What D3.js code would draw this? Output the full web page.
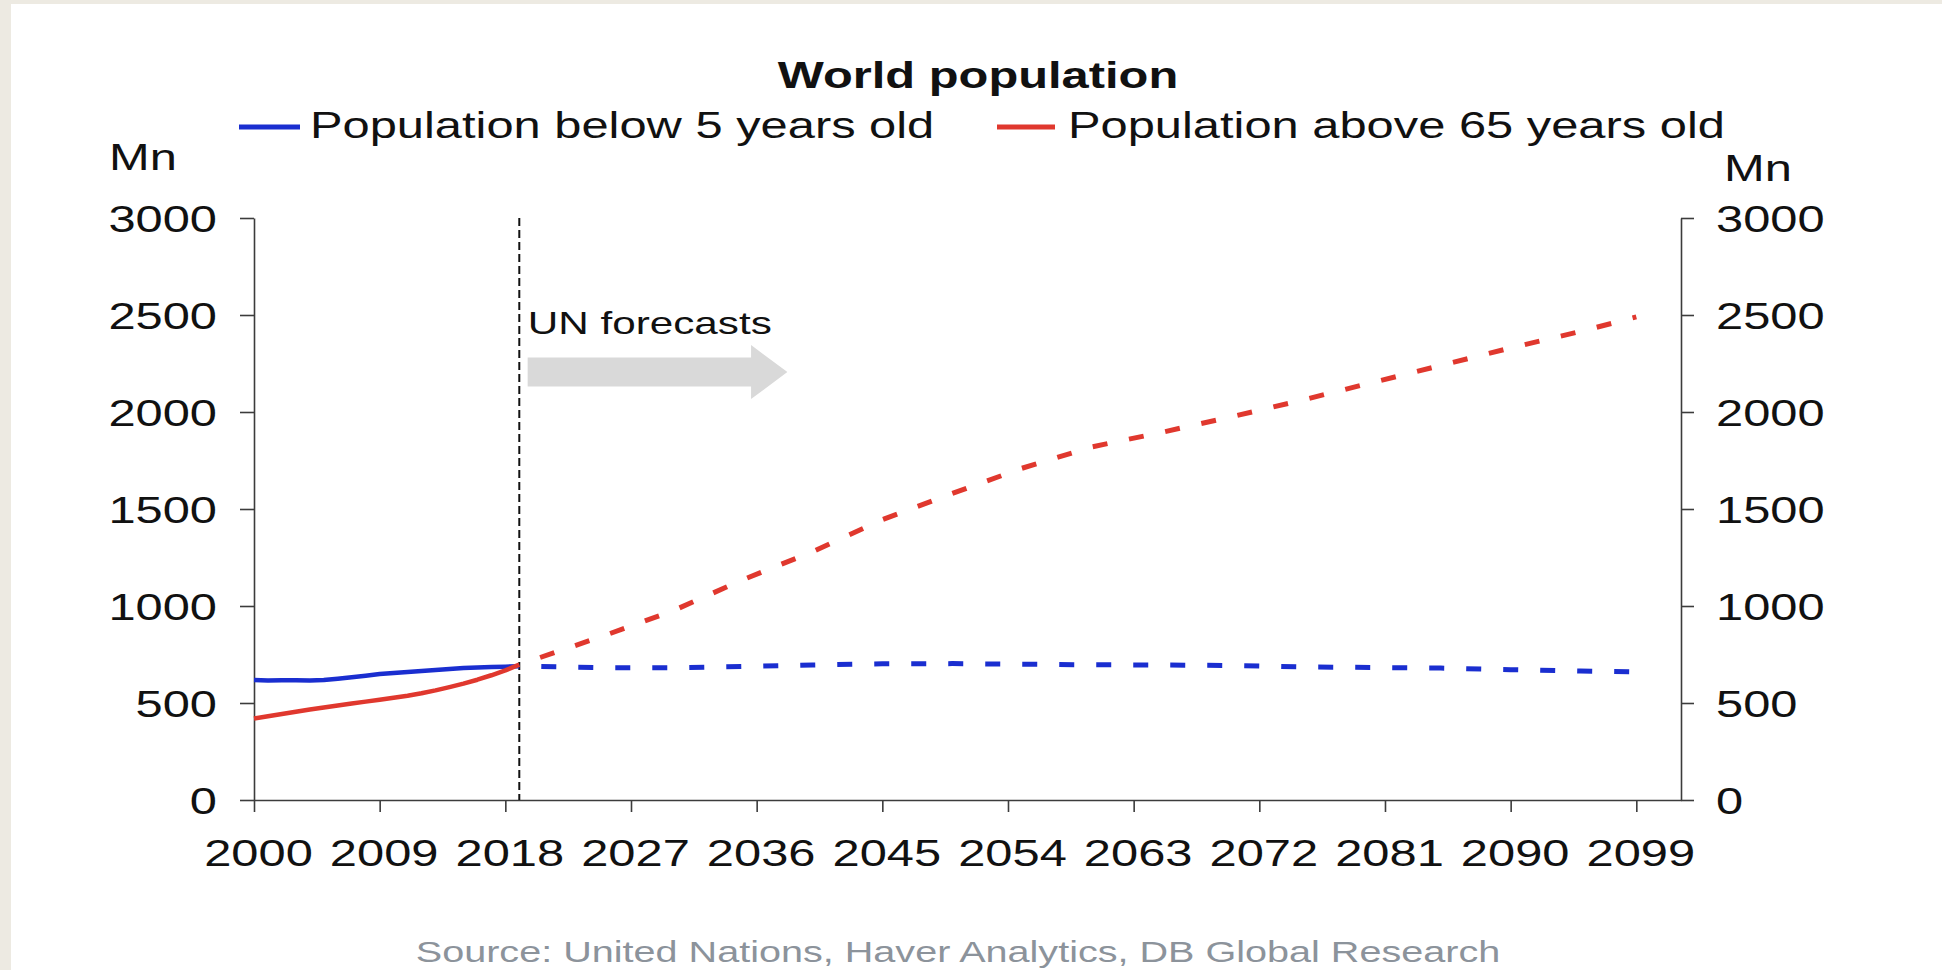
<!DOCTYPE html>
<html>
<head>
<meta charset="utf-8">
<script src="https://cdn.jsdelivr.net/npm/d3@7"></script>
<style>
  html, body { margin: 0; padding: 0; background: #edeae2; }
  svg { display: block; }
  text { font-family: "Liberation Sans", Arial, Helvetica, sans-serif; }
</style>
</head>
<body>
<svg id="chart" width="1942" height="970"></svg>
<script>
// ---- Data (millions of people) ----
// Estimates, 2000-2019
const histYears = d3.range(2000, 2020);
const under5Hist = [618, 616, 617, 617, 616, 618, 625, 633, 641, 649,
                    655, 660, 665, 670, 675, 680, 683, 685, 687, 690];
const over65Hist = [420, 432, 443, 455, 466, 477, 487, 497, 507, 517,
                    527, 537, 550, 565, 582, 600, 620, 643, 668, 698];

// UN projections, 2019-2099
const projYears  = [2019, 2025, 2030, 2035, 2040, 2045, 2050, 2055, 2060,
                    2065, 2070, 2075, 2080, 2085, 2090, 2095, 2099];
const under5Proj = [690, 682, 682, 688, 696, 702, 703, 700, 697,
                    696, 693, 686, 683, 680, 672, 665, 660];
const over65Proj = [698, 845, 975, 1135, 1280, 1445, 1580, 1710, 1820,
                    1895, 1975, 2060, 2150, 2240, 2330, 2415, 2490];

const seriesNames  = ["Population below 5 years old", "Population above 65 years old"];
const seriesColors = ["#1a2ed0", "#e0382e"];

const xTickYears = d3.range(2000, 2100, 9);   // 2000, 2009, ... 2099
const yTicks     = [0, 500, 1000, 1500, 2000, 2500, 3000];
const forecastStart = 2019;

// Forecast arrow annotation, in data units
const arrowX = [2019.6, 2035.6, 2038.2];      // tail, head base, tip
const arrowY = 2206, arrowHalf = 75, arrowHeadHalf = 139;

// ---- Layout ----
const W = 1942, H = 970;
const S = 1.32;                     // horizontal text stretch
const FONT = 37;

const svg = d3.select("#chart");

svg.append("rect").attr("width", W).attr("height", H).attr("fill", "#edeae2");
svg.append("rect").attr("x", 11).attr("y", 4).attr("width", W - 11).attr("height", H - 4).attr("fill", "#ffffff");

const x = d3.scaleLinear().domain([2000, 2102.2]).range([254, 1681]);
const y = d3.scaleLinear().domain([0, 3000]).range([800, 218]);

function label(g, str, px, py, opts = {}) {
  return g.append("text")
    .attr("transform", `translate(${px},${py}) scale(${S},1)`)
    .attr("text-anchor", opts.anchor || "start")
    .style("font-size", (opts.size || FONT) + "px")
    .style("font-weight", opts.weight || "normal")
    .attr("fill", opts.fill || "#111")
    .text(str);
}

function styleAxis(g) {
  g.attr("font-family", null).attr("font-size", null);
  g.select(".domain").attr("stroke", "#3c3c3c").attr("stroke-width", 1.6);
  g.selectAll(".tick line").attr("stroke", "#3c3c3c").attr("stroke-width", 1.6);
  g.selectAll(".tick text")
    .attr("x", null).attr("y", null).attr("dy", null)
    .style("font-size", FONT + "px").attr("fill", "#111");
}

// Left axis
const gL = svg.append("g").attr("transform", `translate(${x.range()[0]},0)`)
  .call(d3.axisLeft(y).tickValues(yTicks).tickSize(14).tickSizeOuter(0).tickFormat(d3.format("d")));
styleAxis(gL);
gL.selectAll(".tick text").attr("text-anchor", "end")
  .attr("transform", `translate(-37,13.5) scale(${S},1)`);

// Right axis
const gR = svg.append("g").attr("transform", `translate(${x.range()[1]},0)`)
  .call(d3.axisRight(y).tickValues(yTicks).tickSize(13).tickSizeOuter(0).tickFormat(d3.format("d")));
styleAxis(gR);
gR.selectAll(".tick text").attr("text-anchor", "start")
  .attr("transform", `translate(35,13.5) scale(${S},1)`);

// Bottom axis
const gB = svg.append("g").attr("transform", `translate(0,${y(0)})`)
  .call(d3.axisBottom(x).tickValues(xTickYears).tickSize(12).tickSizeOuter(0).tickFormat(d3.format("d")));
styleAxis(gB);
gB.selectAll(".tick text").attr("text-anchor", "middle")
  .attr("transform", `translate(4,66) scale(${S},1)`);

// Forecast divider
svg.append("line")
  .attr("x1", x(forecastStart)).attr("x2", x(forecastStart))
  .attr("y1", y(3000)).attr("y2", y(0))
  .attr("stroke", "#111").attr("stroke-width", 2).attr("stroke-dasharray", "8,4");

// Arrow and its caption
const arrowPts = [
  [x(arrowX[0]), y(arrowY + arrowHalf)],
  [x(arrowX[1]), y(arrowY + arrowHalf)],
  [x(arrowX[1]), y(arrowY + arrowHeadHalf)],
  [x(arrowX[2]), y(arrowY)],
  [x(arrowX[1]), y(arrowY - arrowHeadHalf)],
  [x(arrowX[1]), y(arrowY - arrowHalf)],
  [x(arrowX[0]), y(arrowY - arrowHalf)]
];
svg.append("polygon").attr("points", arrowPts.map(p => p.join(",")).join(" ")).attr("fill", "#d9d9d9");
label(svg, "UN forecasts", x(arrowX[0]), 334, { size: 32 });

// Series lines
const line = d3.line().x(d => x(d[0])).y(d => y(d[1]));
const series = [
  { hist: under5Hist, proj: under5Proj, color: seriesColors[0] },
  { hist: over65Hist, proj: over65Proj, color: seriesColors[1] }
];
series.forEach(s => {
  svg.append("path")
    .datum(histYears.map((yr, i) => [yr, s.hist[i]]))
    .attr("d", line).attr("fill", "none")
    .attr("stroke", s.color).attr("stroke-width", 4.5).attr("stroke-linejoin", "round");
  svg.append("path")
    .datum(projYears.map((yr, i) => [yr, s.proj[i]]))
    .attr("d", line).attr("fill", "none")
    .attr("stroke", s.color).attr("stroke-width", 5)
    .attr("stroke-dasharray", "15,22").attr("stroke-dashoffset", 15);
});

// Title
label(svg, "World population", 978, 88, { anchor: "middle", weight: "bold" });

// Legend
const legendPos = [[239, 300, 310], [997, 1055, 1068]];
seriesNames.forEach((name, i) => {
  const [l0, l1, tx] = legendPos[i];
  svg.append("line").attr("x1", l0).attr("x2", l1).attr("y1", 127).attr("y2", 127)
    .attr("stroke", seriesColors[i]).attr("stroke-width", 5);
  label(svg, name, tx, 138);
});

// Unit labels
label(svg, "Mn", 109, 170);
label(svg, "Mn", 1724, 181);

// Source
label(svg, "Source: United Nations, Haver Analytics, DB Global Research", 958, 962,
      { anchor: "middle", size: 30, fill: "#8c939b" });
</script>
</body>
</html>
